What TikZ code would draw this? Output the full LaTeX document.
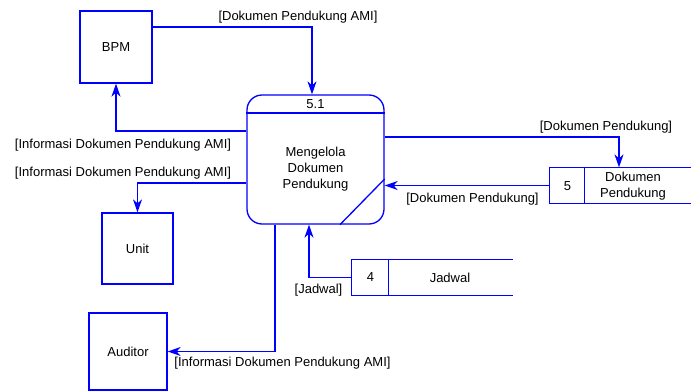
\documentclass[tikz,border=0pt]{standalone}
\usepackage{fontspec}
\setmainfont{Liberation Sans}
\usetikzlibrary{arrows.meta,calc}
\definecolor{dfdblue}{RGB}{0,0,255}
\begin{document}
\begin{tikzpicture}[x=1pt,y=-1pt,
  font=\fontsize{13}{16}\selectfont,
  line width=1.3pt,
  entity/.style={draw=dfdblue, inner sep=0pt},
  procbox/.style={draw=dfdblue, rounded corners=15pt, inner sep=0pt,
    minimum width=137pt, minimum height=129pt},
  storebox/.style={inner sep=0pt, minimum height=35pt},
  storeline/.style={draw=dfdblue},
  flow/.style={draw=dfdblue, -{Stealth[length=13pt,width=9pt,inset=4pt]}},
  lbl/.style={inner sep=0pt, align=center}]
\useasboundingbox (0,0) rectangle (691,391);

% external entities
\node[entity, minimum width=72pt, minimum height=72pt] (bpm) at (116,47) {BPM};
\node[entity, minimum width=71pt, minimum height=71pt] (unit) at (137.5,248.5) {Unit};
\node[entity, minimum width=78pt, minimum height=77pt] (auditor) at (128,351.5) {Auditor};

% process 5.1
\node[procbox] (p) at (315.5,159.5) {};
\draw[dfdblue] (p.west |- 0,113) -- (p.east |- 0,113);
\draw[dfdblue] (p.east |- 0,179) -- (340,0 |- p.south);
\node[lbl] (pid) at (315.5,104) {5.1};
\node[lbl] (pname) at (315.5,169.5) {Mengelola\\Dokumen\\Pendukung};

% data store 4
\node[storebox, minimum width=160pt] (s4) at (432,277.5) {};
\draw[storeline] (s4.north east) -- (s4.north west) -- (s4.south west) -- (s4.south east);
\draw[storeline] ($(s4.north west)+(37,0)$) -- ($(s4.south west)+(37,0)$);
\node[lbl] (s4id) at (370.5,277.5) {4};
\node[lbl] (s4name) at (450,277.5) {Jadwal};

% data store 5
\node[storebox, minimum width=141pt] (s5) at (620.5,185.5) {};
\draw[storeline] (s5.north east) -- (s5.north west) -- (s5.south west) -- (s5.south east);
\draw[storeline] ($(s5.north west)+(35,0)$) -- ($(s5.south west)+(35,0)$);
\node[lbl] (s5id) at (567.5,186) {5};
\node[lbl] (s5name) at (633,186.5) {Dokumen\\Pendukung};

% data flows
\draw[flow] (bpm.east |- 0,27) -| (p.north -| 312,0);
\node[lbl] (f1) at (298,17) {[Dokumen Pendukung AMI]};

\draw[flow] (p.west |- 0,131) -| (bpm.south);
\node[lbl] (f2) at (123,145) {[Informasi Dokumen Pendukung AMI]};

\draw[flow] (p.west |- 0,183) -| (unit.north);
\node[lbl] (f3) at (123,173) {[Informasi Dokumen Pendukung AMI]};

\draw[flow] (p.south -| 275,0) |- (auditor.east);
\node[lbl] (f4) at (282.5,363) {[Informasi Dokumen Pendukung AMI]};

\draw[flow] (s4.west) -| (p.south -| 309,0);
\node[lbl] (f5) at (318.5,290) {[Jadwal]};

\draw[flow] (p.east |- 0,137) -| (s5.north -| 619,0);
\node[lbl] (f6) at (606,127) {[Dokumen Pendukung]};

\draw[flow] (s5.west) -- (p.east |- s5.west);
\node[lbl] (f7) at (472.5,199) {[Dokumen Pendukung]};
\end{tikzpicture}
\end{document}
